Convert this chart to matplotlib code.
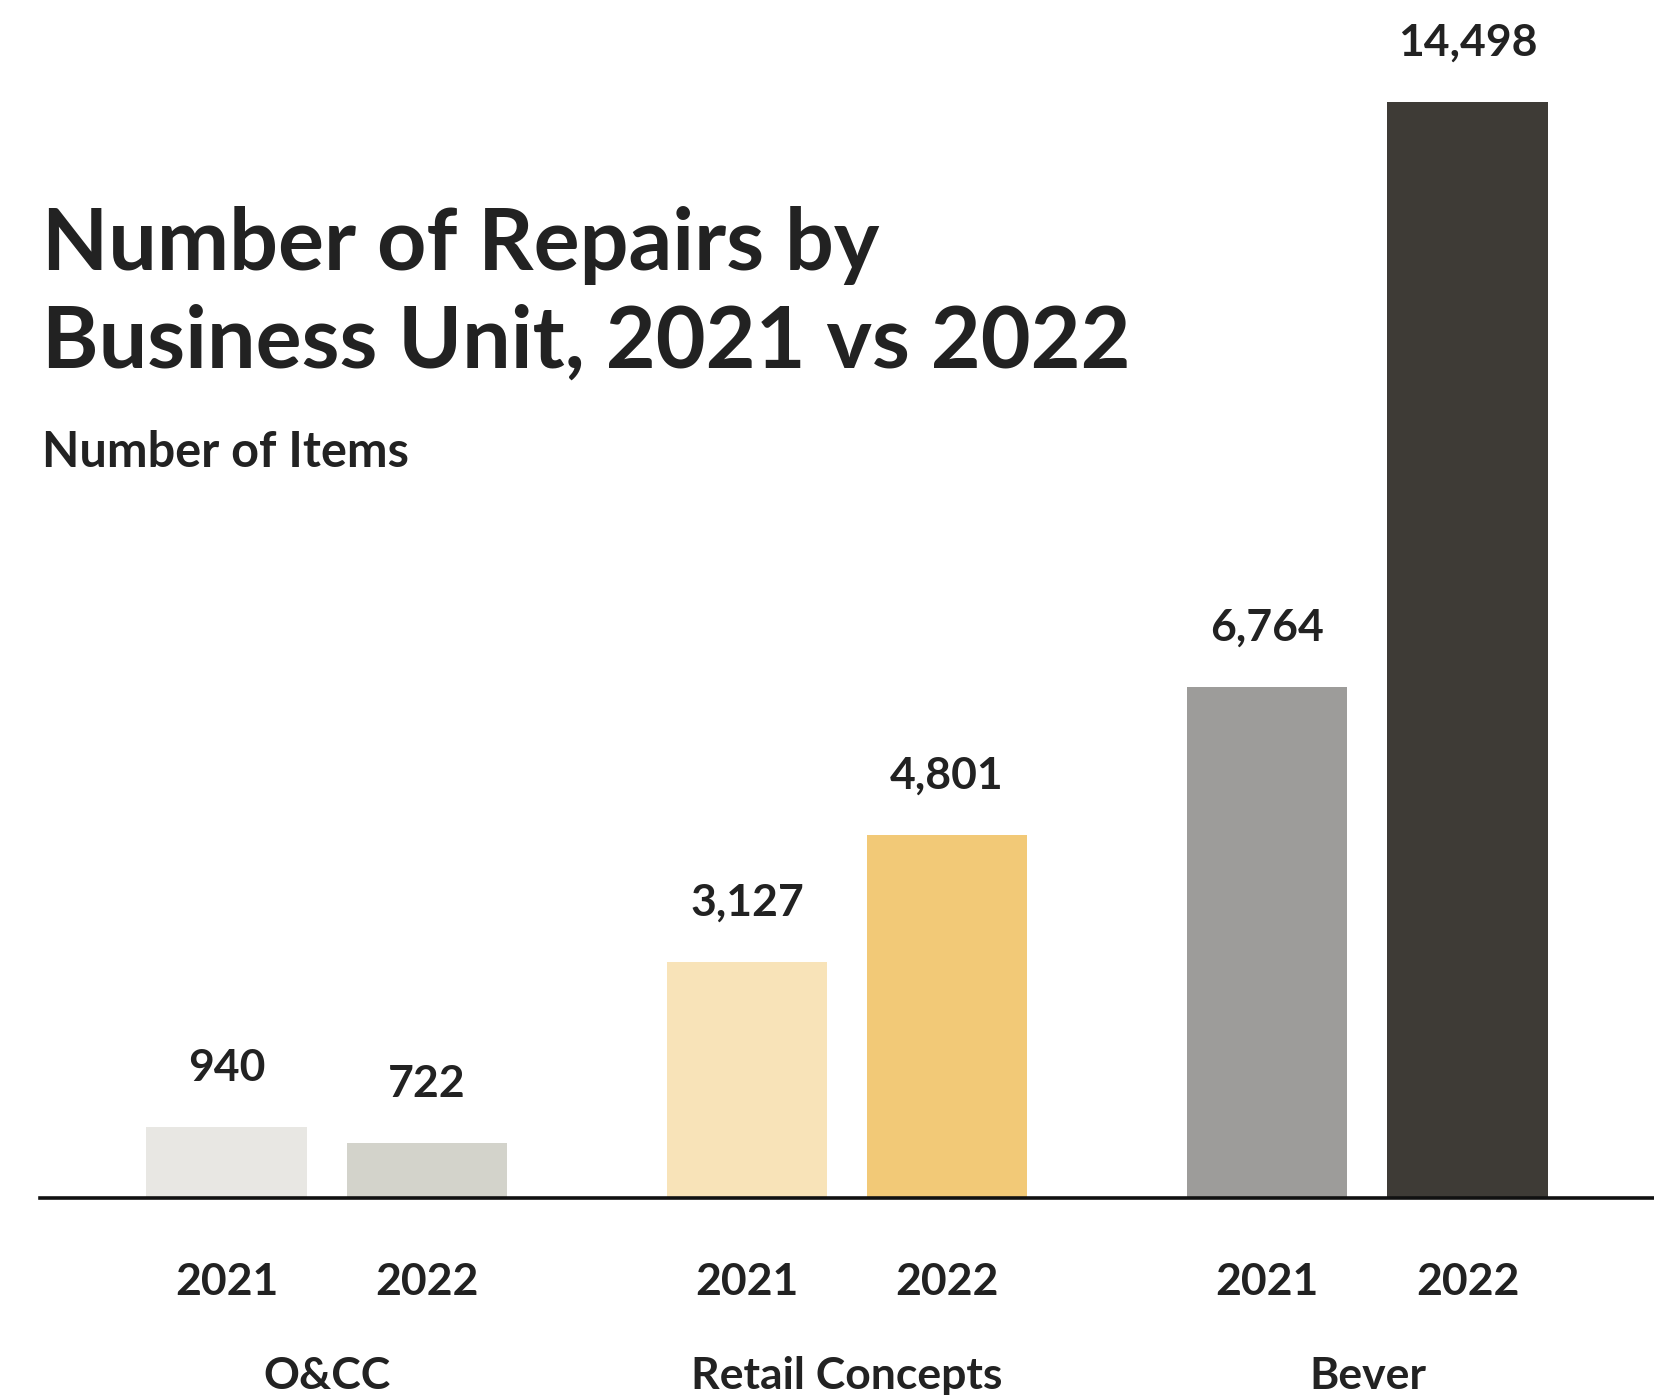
import matplotlib
matplotlib.use("Agg")
import matplotlib.pyplot as plt

# Data
units = ["O&CC", "Retail Concepts", "Bever"]
years = ["2021", "2022"]
repairs_2021 = [940, 3127, 6764]
repairs_2022 = [722, 4801, 14498]
colors_2021 = ["#E8E7E3", "#F8E3B8", "#9D9C9A"]
colors_2022 = ["#D3D3CB", "#F2C977", "#3E3B36"]

TEXT = "#222222"
FONT = ["Lato", "DejaVu Sans"]
plt.rcParams["font.family"] = FONT

W, H, DPI = 1654, 1395, 100
fig = plt.figure(figsize=(W / DPI, H / DPI), dpi=DPI)
fig.patch.set_facecolor("white")

# Axes box in pixel terms
ax_left, ax_right = 40, 1654
ax_bottom, ax_top = 1198, 102
ax = fig.add_axes([ax_left / W, 1 - ax_bottom / H,
                   (ax_right - ax_left) / W, (ax_bottom - ax_top) / H])

bar_w = 0.8
group_step = 2.6
centers = [i * group_step for i in range(len(units))]
x21 = [c - 0.5 for c in centers]
x22 = [c + 0.5 for c in centers]

ax.bar(x21, repairs_2021, width=bar_w, color=colors_2021, zorder=2)
ax.bar(x22, repairs_2022, width=bar_w, color=colors_2022, zorder=2)

margin = 0.932
ax.set_xlim(x21[0] - margin, x22[-1] + margin)
ax.set_ylim(0, max(repairs_2021 + repairs_2022))

for s in ["top", "left", "right"]:
    ax.spines[s].set_visible(False)
ax.spines["bottom"].set_linewidth(2.6)
ax.spines["bottom"].set_color("#111111")
ax.spines["bottom"].set_zorder(3)
ax.set_xticks([])
ax.set_yticks([])

label_kw = dict(ha="center", va="center", fontsize=32, fontweight="bold",
                color=TEXT, textcoords="offset pixels", annotation_clip=False)

# Value labels above bars
for xs, vals in ((x21, repairs_2021), (x22, repairs_2022)):
    for x, v in zip(xs, vals):
        ax.annotate(f"{v:,}", xy=(x, v), xytext=(0, 59), **label_kw)

# Year labels under each bar and unit names under each group
for xa, xb, c, name in zip(x21, x22, centers, units):
    ax.annotate(years[0], xy=(xa, 0), xytext=(0, -84), **label_kw)
    ax.annotate(years[1], xy=(xb, 0), xytext=(0, -84), **label_kw)
    ax.annotate(name, xy=(c, 0), xytext=(0, -178), **label_kw)

# Title and subtitle
fig.text(42 / W, 1 - 270 / H, "Number of Repairs by", ha="left", va="baseline",
         fontsize=62, fontweight="bold", color=TEXT)
fig.text(42 / W, 1 - 368 / H, "Business Unit, 2021 vs 2022", ha="left", va="baseline",
         fontsize=62, fontweight="bold", color=TEXT)
fig.text(42 / W, 1 - 467 / H, "Number of Items", ha="left", va="baseline",
         fontsize=35, fontweight="bold", color=TEXT)

fig.savefig("out.png", dpi=DPI, facecolor="white")
